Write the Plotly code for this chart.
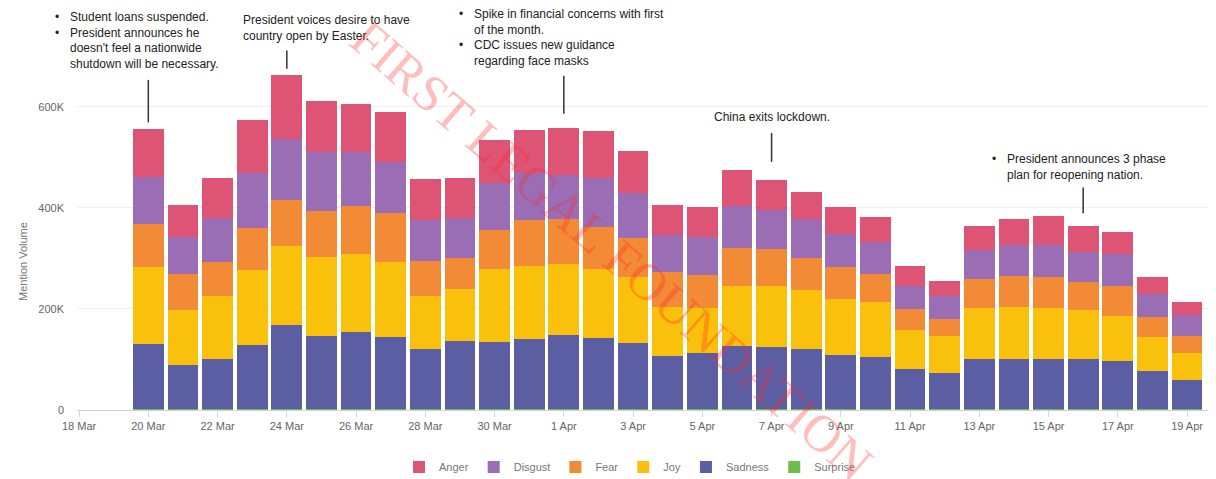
import plotly.graph_objects as go

# daily mention volume by emotion (thousands)
dates = ['2020-03-20', '2020-03-21', '2020-03-22', '2020-03-23', '2020-03-24', '2020-03-25',
         '2020-03-26', '2020-03-27', '2020-03-28', '2020-03-29', '2020-03-30', '2020-03-31',
         '2020-04-01', '2020-04-02', '2020-04-03', '2020-04-04', '2020-04-05', '2020-04-06',
         '2020-04-07', '2020-04-08', '2020-04-09', '2020-04-10', '2020-04-11', '2020-04-12',
         '2020-04-13', '2020-04-14', '2020-04-15', '2020-04-16', '2020-04-17', '2020-04-18',
         '2020-04-19']
sadness = [130, 89, 99, 127, 168, 145, 153, 144, 119, 135, 134, 140, 148, 142, 132, 105,
           112, 125, 124, 120, 107, 103, 80, 73, 100, 100, 99, 99, 96, 77, 59]
joy = [151, 108, 125, 148, 155, 156, 154, 147, 105, 104, 143, 143, 139, 135, 130, 97,
       89, 119, 121, 117, 112, 109, 78, 72, 101, 102, 102, 97, 89, 66, 53]
fear = [85, 71, 67, 85, 92, 91, 95, 97, 69, 61, 78, 91, 89, 84, 77, 70,
        65, 75, 73, 63, 62, 56, 40, 34, 57, 62, 61, 56, 59, 40, 33]
disgust = [94, 73, 88, 107, 120, 117, 108, 101, 81, 79, 93, 94, 87, 97, 89, 74,
           75, 83, 76, 76, 66, 63, 47, 45, 57, 62, 64, 60, 63, 46, 41]
anger = [95, 63, 78, 105, 126, 102, 95, 100, 82, 79, 86, 84, 93, 92, 84, 58,
         60, 71, 60, 54, 54, 50, 38, 31, 48, 50, 56, 51, 44, 33, 27]
surprise = [1] * 31

y_ticks = [0, 200000, 400000, 600000]
y_tick_text = ['0', '200K', '400K', '600K']

# event call-outs: date, line start/end above bar top (thousands)
event_dates = ['2020-03-20', '2020-03-24', '2020-04-01', '2020-04-07', '2020-04-16']
event_line_lo = [569, 675, 586, 491, 389]
event_line_hi = [653, 711, 661, 548, 440]

colors = {
    'Anger': '#de5475',
    'Disgust': '#9b6db5',
    'Fear': '#f28a36',
    'Joy': '#fac10c',
    'Sadness': '#5c5ea4',
    'Surprise': '#6cbd4c',
}

series = [('Surprise', surprise), ('Sadness', sadness), ('Joy', joy),
          ('Fear', fear), ('Disgust', disgust), ('Anger', anger)]

fig = go.Figure()
for name, vals in series:
    fig.add_trace(go.Bar(
        x=dates,
        y=[v * 1000 for v in vals],
        name=name,
        marker={'color': colors[name], 'line': {'width': 0}},
    ))

# page has an 8px body margin; plot box given in screen pixels
PAGE = 8
FIG_W, FIG_H = 1216 - PAGE, 479 - PAGE
X0, X1, Y0, Y1 = 77, 1212, 16, 410
PX_PER_K = 0.5055


def px(xs):
    return (xs - X0) / (X1 - X0)


def py(ys):
    return (Y1 - ys) / (Y1 - Y0)


font = {'family': 'Liberation Sans, Arial, sans-serif', 'size': 12, 'color': '#222222'}

notes = [
    (53, 68, 8, '•<br>•',
     "Student loans suspended.<br>President announces he<br>doesn't feel a nationwide<br>shutdown will be necessary."),
    (None, 241, 11, '', 'President voices desire to have<br>country open by Easter.'),
    (457, 472, 5, '•<br><br>•',
     'Spike in financial concerns with first<br>of the month.<br>CDC issues new guidance<br>regarding face masks'),
    (None, 712, 108, '', 'China exits lockdown.'),
    (990, 1005, 150, '•', 'President announces 3 phase<br>plan for reopening nation.'),
]

annotations = []
for bx, tx, ty, bullets, text in notes:
    if bx is not None:
        annotations.append(dict(x=px(bx), y=py(ty), xref='paper', yref='paper', text=bullets,
                                showarrow=False, xanchor='left', yanchor='top', align='left',
                                font=font))
    annotations.append(dict(x=px(tx), y=py(ty), xref='paper', yref='paper', text=text,
                            showarrow=False, xanchor='left', yanchor='top', align='left',
                            font=font))

annotations.append(dict(x=px(15), y=py(262), xref='paper', yref='paper', text='Mention Volume',
                        textangle=-90, showarrow=False,
                        font={'family': 'Liberation Sans, Arial, sans-serif', 'size': 11,
                              'color': '#777777'}))

annotations.append(dict(x=px(612), y=py(250), xref='paper', yref='paper',
                        text='FIRST LEGAL FOUNDATION', textangle=41, showarrow=False,
                        font={'family': 'Liberation Serif, serif', 'size': 52,
                              'color': 'rgba(255,40,40,0.3)'}))

shapes = []
for d, lo, hi in zip(event_dates, event_line_lo, event_line_hi):
    shapes.append(dict(type='line', xref='x', yref='y', x0=d, x1=d, y0=lo * 1000, y1=hi * 1000,
                       line={'color': '#333333', 'width': 1.5}))

fig.update_layout(
    barmode='stack',
    bargap=0.11,
    width=FIG_W,
    height=FIG_H,
    margin={'l': X0 - PAGE, 'r': FIG_W - (X1 - PAGE), 't': Y0 - PAGE, 'b': FIG_H - (Y1 - PAGE),
            'autoexpand': False},
    plot_bgcolor='white',
    paper_bgcolor='white',
    font={'family': 'Liberation Sans, Arial, sans-serif', 'size': 11, 'color': '#666666'},
    legend={'orientation': 'h', 'x': px(630), 'y': py(467), 'xanchor': 'center',
            'yanchor': 'middle', 'traceorder': 'reversed',
            'font': {'size': 11, 'color': '#777777'}},
    annotations=annotations,
    shapes=shapes,
    xaxis={
        'type': 'date',
        'range': ['2020-03-17 22:34', '2020-04-19 17:17'],
        'tick0': '2020-03-18',
        'dtick': 2 * 86400000,
        'tickformat': '%-d %b',
        'showgrid': False,
        'showline': True,
        'linecolor': '#cdd3dd',
        'ticks': 'outside',
        'ticklen': 6,
        'tickcolor': '#d5d9e0',
        'tickfont': {'size': 11, 'color': '#666666'},
        'automargin': False,
    },
    yaxis={
        'range': [0, (Y1 - Y0) / PX_PER_K * 1000],
        'tickvals': y_ticks,
        'ticktext': y_tick_text,
        'showgrid': True,
        'gridcolor': '#f0f0f0',
        'zeroline': False,
        'ticklabelstandoff': 12,
        'tickfont': {'size': 11, 'color': '#666666'},
        'automargin': False,
    },
)

fig.write_html("out.html")
